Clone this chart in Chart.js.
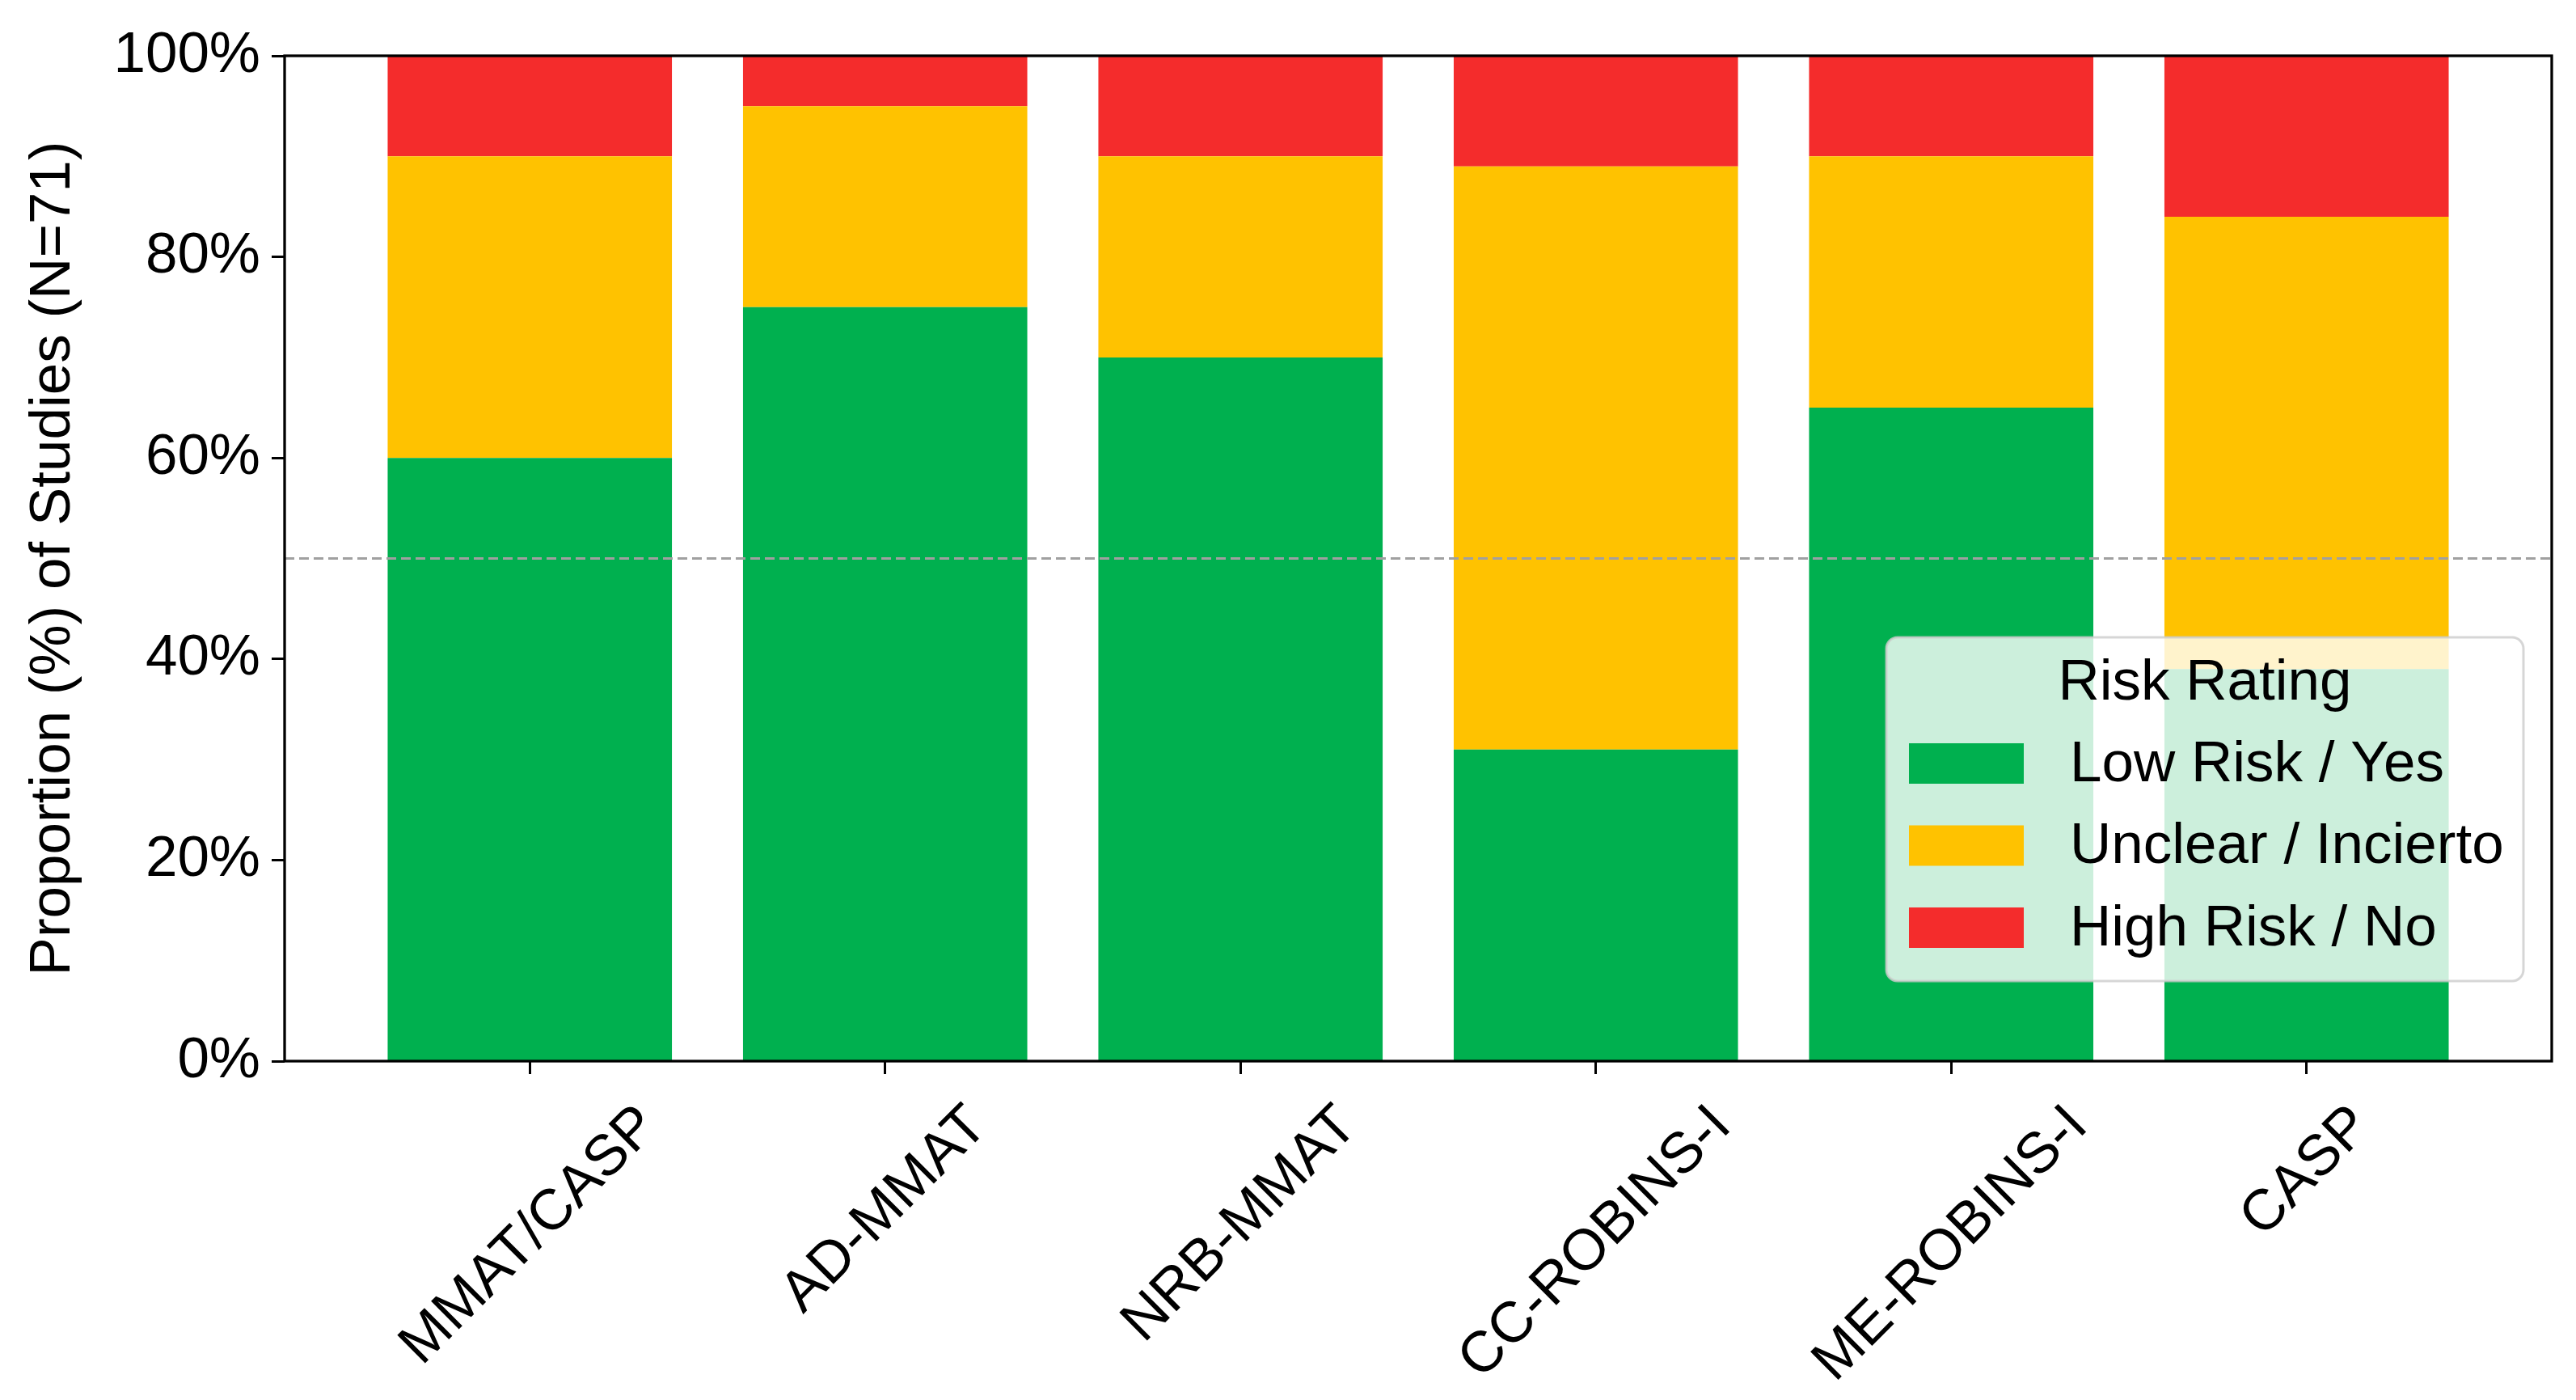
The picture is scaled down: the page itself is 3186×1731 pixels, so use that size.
<!DOCTYPE html>
<html>
<head>
<meta charset="utf-8">
<script src="https://cdn.jsdelivr.net/npm/chart.js@4/dist/chart.umd.min.js"></script>
<style>
  html, body { margin: 0; padding: 0; background: #fff; }
  canvas { display: block; }
</style>
</head>
<body>
<canvas id="chart" width="3186" height="1731"></canvas>
<script>
// ─── Data ────────────────────────────────────────────────────────────
const categories = ['MMAT/CASP', 'AD-MMAT', 'NRB-MMAT', 'CC-ROBINS-I', 'ME-ROBINS-I', 'CASP'];
const lowRisk  = [60, 75, 70, 31, 65, 39];
const unclear  = [30, 20, 20, 58, 25, 45];
const highRisk = [10,  5, 10, 11, 10, 16];
const yTicks = [0, 20, 40, 60, 80, 100];
const refLine = 50;

const seriesNames = ['Low Risk / Yes', 'Unclear / Incierto', 'High Risk / No'];
const seriesColors = ['#00B04F', '#FFC200', '#F42C2C'];
const legendTitle = 'Risk Rating';
const yTitle = 'Proportion (%) of Studies (N=71)';

const FONT = '"Liberation Sans", Arial, Helvetica, sans-serif';
const FS = 71;

const toPoints = arr => arr.map((v, i) => ({ x: i, y: v }));

// ─── Plugins: frame, reference line, x labels, legend ───────────────
const overlayPlugin = {
    id: 'overlay',
    afterDatasetsDraw(chart) {
        const { ctx, chartArea, scales } = chart;
        ctx.save();
        // dashed 50% line
        const y50 = scales.y.getPixelForValue(refLine);
        ctx.strokeStyle = '#a0a0a0';
        ctx.lineWidth = 3;
        ctx.setLineDash([12, 6]);
        ctx.beginPath();
        ctx.moveTo(chartArea.left, y50);
        ctx.lineTo(chartArea.right, y50);
        ctx.stroke();
        ctx.setLineDash([]);
        // axes frame
        ctx.strokeStyle = '#000';
        ctx.lineWidth = 3.3;
        ctx.strokeRect(chartArea.left, chartArea.top, chartArea.right - chartArea.left, chartArea.bottom - chartArea.top);
        ctx.restore();
    },
    afterDraw(chart) {
        const { ctx, chartArea, scales } = chart;
        ctx.save();
        ctx.font = FS + 'px ' + FONT;
        ctx.fillStyle = '#000';

        // rotated category labels, centred on their ticks
        ctx.textAlign = 'center';
        ctx.textBaseline = 'middle';
        categories.forEach((c, i) => {
            const px = scales.x.getPixelForValue(i);
            const w = ctx.measureText(c).width;
            const h = FS * 1.15;
            const half = (w + h) * Math.SQRT1_2 / 2;
            const cy = chartArea.bottom + 16 + 24 + half;
            ctx.save();
            ctx.translate(px, cy);
            ctx.rotate(-Math.PI / 4);
            ctx.fillText(c, 0, 0);
            ctx.restore();
        });

        // legend box (lower right, semi-transparent)
        const boxW = 788, boxH = 425;
        const x0 = chartArea.right - 35 - boxW;
        const y0 = chartArea.bottom - 99 - boxH;
        ctx.beginPath();
        ctx.roundRect(x0, y0, boxW, boxH, 14);
        ctx.fillStyle = 'rgba(255,255,255,0.8)';
        ctx.fill();
        ctx.strokeStyle = 'rgba(204,204,204,0.8)';
        ctx.lineWidth = 3;
        ctx.stroke();

        ctx.fillStyle = '#000';
        ctx.textAlign = 'center';
        ctx.fillText(legendTitle, x0 + boxW / 2, y0 + 57);
        seriesNames.forEach((name, i) => {
            const cy = y0 + 156 + i * 101.5;
            ctx.fillStyle = seriesColors[i];
            ctx.fillRect(x0 + 28, cy - 25, 142, 50);
            ctx.fillStyle = '#000';
            ctx.textAlign = 'left';
            ctx.fillText(name, x0 + 227, cy + 2);
        });
        ctx.restore();
    }
};

// ─── Chart ───────────────────────────────────────────────────────────
new Chart(document.getElementById('chart'), {
    type: 'bar',
    data: {
        datasets: [
            { label: seriesNames[0], data: toPoints(lowRisk),  backgroundColor: seriesColors[0] },
            { label: seriesNames[1], data: toPoints(unclear),  backgroundColor: seriesColors[1] },
            { label: seriesNames[2], data: toPoints(highRisk), backgroundColor: seriesColors[2] }
        ]
    },
    options: {
        responsive: false,
        devicePixelRatio: 1,
        animation: false,
        layout: { padding: { top: 69, right: 30, bottom: 0, left: 0 } },
        datasets: { bar: { barPercentage: 0.8, categoryPercentage: 1.0, borderWidth: 0 } },
        plugins: {
            legend: { display: false },
            tooltip: { enabled: false }
        },
        scales: {
            x: {
                type: 'linear',
                stacked: true,
                offset: false,
                min: -0.69,
                max: categories.length - 1 + 0.69,
                afterBuildTicks: s => { s.ticks = categories.map((c, i) => ({ value: i })); },
                afterFit: s => { s.height = 419; },
                ticks: { display: false },
                grid: { offset: false, drawOnChartArea: false, drawTicks: true, tickLength: 16, tickWidth: 3, color: '#000' },
                border: { display: false }
            },
            y: {
                stacked: true,
                min: 0,
                max: 100,
                afterBuildTicks: s => { s.ticks = yTicks.map(v => ({ value: v })); },
                afterFit: s => { s.width = 352; },
                ticks: {
                    callback: v => v + '%',
                    color: '#000',
                    padding: 14,
                    font: { family: FONT, size: FS }
                },
                grid: { drawOnChartArea: false, drawTicks: true, tickLength: 16, tickWidth: 3, color: '#000' },
                border: { display: false },
                title: {
                    display: true,
                    text: yTitle,
                    color: '#000',
                    font: { family: FONT, size: FS, lineHeight: 1.2 },
                    padding: { top: 24, bottom: 0 }
                }
            }
        }
    },
    plugins: [overlayPlugin]
});
</script>
</body>
</html>
